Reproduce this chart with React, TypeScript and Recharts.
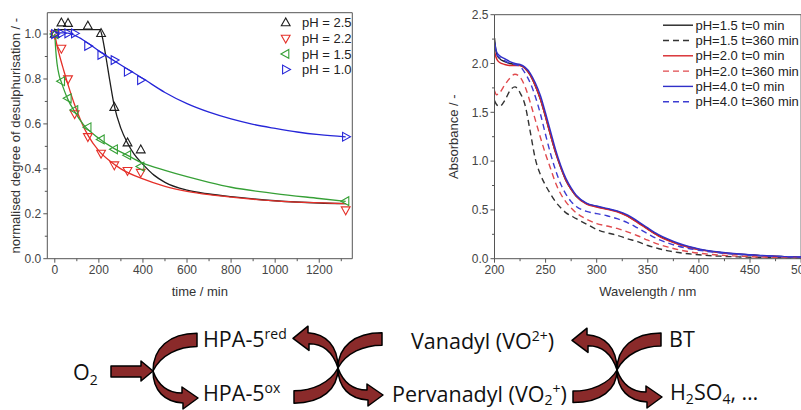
import React from 'react';
import { ComposedChart, LineChart, Line, Scatter, XAxis, YAxis, ReferenceLine } from 'recharts';

const FONT = '"Liberation Sans", Arial, sans-serif';
const SCHEME_FONT = '"Open Sans", sans-serif';
const AXIS = '#555';
const TICK_TEXT = '#444';

// ---------- left panel: normalised degree of desulphurisation vs time ----------
const timeTicks = [0, 200, 400, 600, 800, 1000, 1200];
const timeMinorTicks = [100, 300, 500, 700, 900, 1100, 1300];
const degreeTicks = [0, 0.2, 0.4, 0.6, 0.8, 1.0];
const degreeMinorTicks = [0.1, 0.3, 0.5, 0.7, 0.9];

const sampleTimes = [0, 30, 60, 90, 150, 210, 270, 330, 390, 1320];
const ph25Times = [0, 30, 60, 150, 210, 270, 330, 390];
const ph25Measured = [1.0, 1.05, 1.048, 1.036, 1.003, 0.674, 0.516, 0.485];
const ph22Measured = [1.0, 0.936, 0.8, 0.645, 0.543, 0.469, 0.417, 0.392, 0.384, 0.217];
const ph15Measured = [1.0, 0.79, 0.714, 0.662, 0.585, 0.531, 0.487, 0.461, 0.41, 0.256];
const ph10Measured = [1.0, 1.003, 1.003, 1.003, 0.947, 0.907, 0.884, 0.832, 0.795, 0.543];

// fitted curves
const ph25FitTimes = [0, 100, 205, 215, 230, 250, 270, 300, 330, 360, 400, 450, 500, 600, 700, 800, 1000, 1200, 1320];
const ph25Fit = [1.02, 1.02, 1.02, 0.99, 0.91, 0.79, 0.68, 0.58, 0.515, 0.465, 0.42, 0.372, 0.34, 0.305, 0.288, 0.276, 0.258, 0.248, 0.245];
const ph22FitTimes = [0, 10, 20, 40, 60, 90, 120, 150, 200, 250, 300, 400, 500, 600, 700, 800, 1000, 1320];
const ph22Fit = [1.0, 0.95, 0.91, 0.84, 0.775, 0.685, 0.61, 0.55, 0.48, 0.435, 0.4, 0.355, 0.322, 0.3, 0.285, 0.274, 0.257, 0.245];
const ph15FitTimes = [0, 5, 10, 20, 30, 60, 90, 130, 190, 270, 330, 400, 500, 600, 700, 800, 1000, 1200, 1320];
const ph15Fit = [1.0, 0.92, 0.87, 0.815, 0.785, 0.708, 0.655, 0.597, 0.543, 0.49, 0.46, 0.425, 0.393, 0.365, 0.34, 0.318, 0.29, 0.268, 0.255];
const ph10FitTimes = [0, 50, 100, 150, 200, 250, 300, 350, 400, 500, 600, 700, 800, 900, 1000, 1100, 1200, 1320];
const ph10Fit = [1.005, 1.005, 0.99, 0.96, 0.925, 0.893, 0.862, 0.832, 0.802, 0.74, 0.69, 0.652, 0.622, 0.598, 0.58, 0.564, 0.552, 0.542];

// ---------- right panel: UV-Vis spectra ----------
const wlTicks = [200, 250, 300, 350, 400, 450, 500];
const wlMinorTicks = [225, 275, 325, 375, 425, 475];
const absTicks = [0, 0.5, 1.0, 1.5, 2.0, 2.5];
const absMinorTicks = [0.25, 0.75, 1.25, 1.75, 2.25];

const wavelengths = [200, 202, 205, 210, 215, 220, 225, 230, 235, 240, 245, 250, 255, 260, 265, 270, 275, 280, 290, 300, 310, 320, 330, 340, 350, 360, 370, 380, 390, 400, 420, 440, 460, 480, 500];
const ph15t0 = [2.26, 2.1, 2.05, 2.02, 2.0, 1.99, 1.98, 1.95, 1.88, 1.77, 1.63, 1.45, 1.26, 1.08, 0.93, 0.8, 0.71, 0.64, 0.565, 0.535, 0.51, 0.485, 0.44, 0.375, 0.305, 0.24, 0.19, 0.15, 0.12, 0.095, 0.065, 0.045, 0.032, 0.022, 0.016];
const ph15t360 = [1.62, 1.58, 1.56, 1.62, 1.72, 1.76, 1.7, 1.57, 1.3, 1.02, 0.86, 0.75, 0.66, 0.58, 0.52, 0.47, 0.44, 0.41, 0.355, 0.3, 0.265, 0.24, 0.205, 0.175, 0.135, 0.105, 0.08, 0.063, 0.05, 0.04, 0.026, 0.018, 0.012, 0.009, 0.006];
const ph20t0 = [2.12, 2.05, 2.01, 1.99, 1.98, 1.98, 1.98, 1.95, 1.88, 1.77, 1.63, 1.45, 1.26, 1.08, 0.93, 0.8, 0.71, 0.64, 0.56, 0.53, 0.505, 0.48, 0.435, 0.37, 0.3, 0.235, 0.185, 0.147, 0.117, 0.093, 0.063, 0.044, 0.031, 0.021, 0.015];
const ph20t360 = [1.72, 1.68, 1.7, 1.78, 1.85, 1.89, 1.86, 1.76, 1.6, 1.42, 1.24, 1.07, 0.92, 0.77, 0.66, 0.58, 0.52, 0.47, 0.405, 0.36, 0.335, 0.31, 0.275, 0.235, 0.19, 0.15, 0.118, 0.092, 0.072, 0.057, 0.037, 0.025, 0.017, 0.012, 0.009];
const ph40t0 = [2.22, 2.12, 2.08, 2.05, 2.02, 2.0, 1.99, 1.96, 1.9, 1.8, 1.67, 1.49, 1.3, 1.11, 0.95, 0.82, 0.725, 0.65, 0.57, 0.54, 0.515, 0.49, 0.45, 0.385, 0.315, 0.25, 0.2, 0.158, 0.126, 0.1, 0.068, 0.048, 0.034, 0.024, 0.018];
const ph40t360 = [2.2, 2.1, 2.06, 2.03, 2.0, 1.99, 1.97, 1.9, 1.8, 1.66, 1.48, 1.27, 1.07, 0.9, 0.76, 0.66, 0.585, 0.535, 0.485, 0.462, 0.44, 0.41, 0.37, 0.315, 0.255, 0.2, 0.16, 0.128, 0.105, 0.087, 0.06, 0.042, 0.03, 0.022, 0.016];

const zip = (xs: number[], ys: number[]) => xs.map((x, i) => ({ x, y: ys[i] }));

type Dir = 'up' | 'down' | 'left' | 'right';

const leftSeries = [
  { label: 'pH = 2.5', color: '#1e1e1e', dir: 'up' as Dir, points: zip(ph25Times, ph25Measured), fit: zip(ph25FitTimes, ph25Fit) },
  { label: 'pH = 2.2', color: '#e53029', dir: 'down' as Dir, points: zip(sampleTimes, ph22Measured), fit: zip(ph22FitTimes, ph22Fit) },
  { label: 'pH = 1.5', color: '#36a036', dir: 'left' as Dir, points: zip(sampleTimes, ph15Measured), fit: zip(ph15FitTimes, ph15Fit) },
  { label: 'pH = 1.0', color: '#2626d8', dir: 'right' as Dir, points: zip(sampleTimes, ph10Measured), fit: zip(ph10FitTimes, ph10Fit) },
];

const rightSeries = [
  { label: 'pH=1.5 t=0 min', color: '#222', dash: undefined, values: ph15t0 },
  { label: 'pH=1.5 t=360 min', color: '#333', dash: '6 4', values: ph15t360 },
  { label: 'pH=2.0 t=0 min', color: '#d7262b', dash: undefined, values: ph20t0 },
  { label: 'pH=2.0 t=360 min', color: '#e04a4e', dash: '6 4', values: ph20t360 },
  { label: 'pH=4.0 t=0 min', color: '#3030c8', dash: undefined, values: ph40t0 },
  { label: 'pH=4.0 t=360 min', color: '#3c3cd2', dash: '6 4', values: ph40t360 },
];

function Tri({ cx, cy, dir, color }: { cx: number; cy: number; dir: Dir; color: string }) {
  const a = 4.8, b = 3.1, h = 4.4;
  let pts: number[][];
  if (dir === 'up') pts = [[cx, cy - a], [cx - h, cy + b], [cx + h, cy + b]];
  else if (dir === 'down') pts = [[cx, cy + a], [cx - h, cy - b], [cx + h, cy - b]];
  else if (dir === 'left') pts = [[cx - a, cy], [cx + b, cy - h], [cx + b, cy + h]];
  else pts = [[cx + a, cy], [cx - b, cy - h], [cx - b, cy + h]];
  return <polygon points={pts.map((p) => p.join(',')).join(' ')} fill="none" stroke={color} strokeWidth={1.1} />;
}

// ticks with major/minor lengths, drawn at the scale's coordinate
const xTick = (major: number[], axisY: number, fmt: (v: number) => string) => (props: any) => {
  const { x, payload } = props;
  const isMajor = major.includes(payload.value);
  return (
    <g>
      <line x1={x} x2={x} y1={axisY} y2={axisY + (isMajor ? 4 : 2.5)} stroke={AXIS} />
      {isMajor && (
        <text x={x} y={axisY + 15.5} textAnchor="middle" fontSize={12} fill={TICK_TEXT} fontFamily={FONT}>
          {fmt(payload.value)}
        </text>
      )}
    </g>
  );
};

const yTick = (major: number[], axisX: number, fmt: (v: number) => string) => (props: any) => {
  const { y, payload } = props;
  const isMajor = major.includes(payload.value);
  return (
    <g>
      <line x1={axisX} x2={axisX - (isMajor ? 4 : 2.5)} y1={y} y2={y} stroke={AXIS} />
      {isMajor && (
        <text x={axisX - 6} y={y + 4.2} textAnchor="end" fontSize={12} fill={TICK_TEXT} fontFamily={FONT}>
          {fmt(payload.value)}
        </text>
      )}
    </g>
  );
};

const LEFT_PLOT_LEFT = 47.3;
const LEFT_PLOT_BOTTOM = 258.7;

function LeftPanel() {
  const allTime = [...timeTicks, ...timeMinorTicks].sort((a, b) => a - b);
  const allDeg = [...degreeTicks, ...degreeMinorTicks].sort((a, b) => a - b);
  return (
    <div style={{ position: 'absolute', left: 0, top: 0 }}>
      <ComposedChart width={360} height={300} margin={{ top: 12.7, right: 7.7, bottom: 0, left: 0 }}>
        <XAxis
          type="number"
          dataKey="x"
          domain={[-34, 1350]}
          allowDataOverflow
          ticks={allTime}
          interval={0}
          height={41.3}
          stroke={AXIS}
          tickLine={false}
          tick={xTick(timeTicks, LEFT_PLOT_BOTTOM, (v) => String(v))}
          label={{ value: 'time / min', position: 'insideBottom', offset: 4, fontSize: 13, fill: '#333', fontFamily: FONT }}
        />
        <YAxis
          type="number"
          domain={[0, 1.095]}
          allowDataOverflow
          ticks={allDeg}
          interval={0}
          width={LEFT_PLOT_LEFT}
          stroke={AXIS}
          tickLine={false}
          tick={yTick(degreeTicks, LEFT_PLOT_LEFT, (v) => v.toFixed(1))}
          label={{
            value: 'normalised degree of desulphurisation / -',
            angle: -90,
            position: 'insideLeft',
            offset: 15,
            style: { textAnchor: 'middle' },
            fontSize: 13,
            fill: '#333',
            fontFamily: FONT,
          }}
        />
        <ReferenceLine y={1.095} stroke={AXIS} />
        <ReferenceLine x={1350} stroke={AXIS} />
        {leftSeries.map((s) => (
          <Line
            key={s.label + '-fit'}
            data={s.fit}
            dataKey="y"
            type="monotone"
            stroke={s.color}
            strokeWidth={1.3}
            dot={false}
            isAnimationActive={false}
          />
        ))}
        {leftSeries.map((s) => (
          <Scatter
            key={s.label + '-pts'}
            data={s.points}
            dataKey="y"
            isAnimationActive={false}
            shape={(p: any) => <Tri cx={p.cx} cy={p.cy} dir={s.dir} color={s.color} />}
          />
        ))}
      </ComposedChart>
    </div>
  );
}

const RIGHT_PLOT_LEFT = 64.5;
const RIGHT_PLOT_BOTTOM = 258.7;

function RightPanel() {
  const allWl = [...wlTicks, ...wlMinorTicks].sort((a, b) => a - b);
  const allAbs = [...absTicks, ...absMinorTicks].sort((a, b) => a - b);
  return (
    <div style={{ position: 'absolute', left: 430, top: 0 }}>
      <LineChart width={400} height={300} margin={{ top: 14.7, right: 28.9, bottom: 0, left: 0 }}>
        <XAxis
          type="number"
          dataKey="x"
          domain={[200, 500]}
          allowDataOverflow
          ticks={allWl}
          interval={0}
          height={41.3}
          stroke={AXIS}
          tickLine={false}
          tick={xTick(wlTicks, RIGHT_PLOT_BOTTOM, (v) => String(v))}
          label={{ value: 'Wavelength / nm', position: 'insideBottom', offset: 4, fontSize: 13, fill: '#333', fontFamily: FONT }}
        />
        <YAxis
          type="number"
          domain={[0, 2.5]}
          allowDataOverflow
          ticks={allAbs}
          interval={0}
          width={RIGHT_PLOT_LEFT}
          stroke={AXIS}
          tickLine={false}
          tick={yTick(absTicks, RIGHT_PLOT_LEFT, (v) => v.toFixed(1))}
          label={{
            value: 'Absorbance / -',
            angle: -90,
            position: 'insideLeft',
            offset: 23,
            style: { textAnchor: 'middle' },
            fontSize: 13,
            fill: '#333',
            fontFamily: FONT,
          }}
        />
        <ReferenceLine y={2.5} stroke={AXIS} />
        <ReferenceLine x={500} stroke={AXIS} />
        {rightSeries.map((s) => (
          <Line
            key={s.label}
            data={zip(wavelengths, s.values)}
            dataKey="y"
            type="monotone"
            stroke={s.color}
            strokeWidth={1.4}
            strokeDasharray={s.dash}
            dot={false}
            isAnimationActive={false}
          />
        ))}
      </LineChart>
    </div>
  );
}

// curved arrows of the reaction scheme (template relative to the junction point)
const FLAT_ARC = 'M0,0 C0,-22 16,-37 44,-37 L44,-24 C26,-24 8,-16 0,0 Z';
const ARROW_ARC = 'M0,0 C0,20 12,31 30,32 L30,38 L45,27 L29,16 L29,22 C15,22 5,14 0,0 Z';
const ARROW_FILL = '#8a2a2a';

function Arc({ d, x, y, sx, sy }: { d: string; x: number; y: number; sx: number; sy: number }) {
  return (
    <path
      d={d}
      transform={`translate(${x},${y}) scale(${sx},${sy})`}
      fill={ARROW_FILL}
      stroke="#000"
      strokeWidth={1.5}
      vectorEffect="non-scaling-stroke"
      strokeLinejoin="round"
    />
  );
}

function Overlay() {
  const leftRows = [22.7, 38.3, 53.9, 69.5];
  const rightRows = [25.2, 40.5, 55.8, 71.1, 86.4, 101.7];
  const sch = { fontFamily: SCHEME_FONT, fontSize: 21.5, fill: '#111' };
  return (
    <svg width={801} height={410} style={{ position: 'absolute', left: 0, top: 0, pointerEvents: 'none' }}>
      {leftSeries.map((s, i) => (
        <g key={s.label}>
          <Tri cx={285.7} cy={leftRows[i]} dir={s.dir} color={s.color} />
          <text x={302} y={leftRows[i] + 4.6} fontSize={13} fill="#222" fontFamily={FONT}>
            {s.label}
          </text>
        </g>
      ))}
      {rightSeries.map((s, i) => (
        <g key={s.label}>
          <line x1={663} x2={693} y1={rightRows[i]} y2={rightRows[i]} stroke={s.color} strokeWidth={1.4} strokeDasharray={s.dash} />
          <text x={695.5} y={rightRows[i] + 4.6} fontSize={13} fill="#222" fontFamily={FONT}>
            {s.label}
          </text>
        </g>
      ))}

      {/* reaction scheme */}
      <path d="M111,366 L141,366 L141,361 L153,371 L141,381 L141,377 L111,377 Z" fill={ARROW_FILL} stroke="#000" strokeWidth={1.5} strokeLinejoin="round" />
      <Arc d={FLAT_ARC} x={153} y={371} sx={1} sy={1.02} />
      <Arc d={ARROW_ARC} x={153} y={371} sx={1} sy={1} />

      <Arc d={ARROW_ARC} x={338} y={368} sx={-1} sy={-1.1} />
      <Arc d={FLAT_ARC} x={338} y={368} sx={1} sy={0.95} />
      <Arc d={FLAT_ARC} x={338} y={368} sx={-1} sy={-0.95} />
      <Arc d={ARROW_ARC} x={338} y={368} sx={1} sy={1} />

      <Arc d={ARROW_ARC} x={617} y={370} sx={-1} sy={-1.1} />
      <Arc d={FLAT_ARC} x={617} y={370} sx={1} sy={1} />
      <Arc d={FLAT_ARC} x={617} y={370} sx={-1} sy={-0.88} />
      <Arc d={ARROW_ARC} x={617} y={370} sx={1} sy={1} />

      <text x={73} y={380} {...sch}>
        O<tspan dy={5} fontSize={14}>2</tspan>
      </text>
      <text x={203} y={347} {...sch}>
        HPA-5<tspan dy={-8} fontSize={14}>red</tspan>
      </text>
      <text x={203} y={401} {...sch}>
        HPA-5<tspan dy={-8} fontSize={14}>ox</tspan>
      </text>
      <text x={411} y={349} {...sch}>
        Vanadyl (VO<tspan dy={-8} fontSize={14}>2+</tspan>
        <tspan dy={8}>)</tspan>
      </text>
      <text x={392} y={402} {...sch}>
        Pervanadyl (VO<tspan dy={3} fontSize={14}>2</tspan>
        <tspan dy={-11} fontSize={14}>+</tspan>
        <tspan dy={8}>)</tspan>
      </text>
      <text x={669} y={347} {...sch}>
        BT
      </text>
      <text x={670} y={400} {...sch}>
        H<tspan dy={4} fontSize={14}>2</tspan>
        <tspan dy={-4}>SO</tspan>
        <tspan dy={4} fontSize={14}>4</tspan>
        <tspan dy={-4}>, …</tspan>
      </text>
    </svg>
  );
}

export default function App() {
  return (
    <div style={{ position: 'fixed', left: 0, top: 0, width: 801, height: 410, overflow: 'hidden', background: '#fff' }}>
      <LeftPanel />
      <RightPanel />
      <Overlay />
    </div>
  );
}
